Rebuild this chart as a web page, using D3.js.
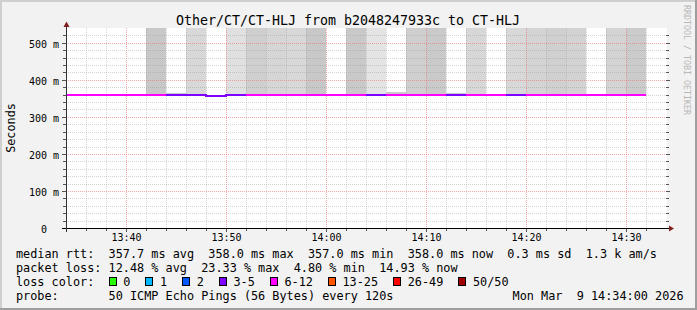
<!DOCTYPE html>
<html><head><meta charset="utf-8">
<script src="https://cdn.jsdelivr.net/npm/d3@7/dist/d3.min.js"></script>
<style>
body{margin:0;background:#f2f2f2}
svg{display:block}
text{font-family:"DejaVu Sans Mono","Liberation Mono",monospace;white-space:pre}
</style>
</head><body>
<svg id="chart" width="697" height="310"></svg>
<script>
// ---------------- data ----------------
const titleText = "Other/CT/CT-HLJ from b2048247933c to CT-HLJ";
const yAxisTitle = "Seconds";
const watermark = "RRDTOOL / TOBI OETIKER";
const dayStr = "2026-03-09";
const rangeStart = "13:34", rangeEnd = "14:34";
const stepEnds = ["13:36","13:38","13:40","13:42","13:44","13:46","13:48","13:50","13:52","13:54",
                  "13:56","13:58","14:00","14:02","14:04","14:06","14:08","14:10","14:12","14:14",
                  "14:16","14:18","14:20","14:22","14:24","14:26","14:28","14:30","14:32"];
// median rtt (ms)
const medianMs = [358.0,357.9,358.0,357.8,358.0,357.9,357.8,357.0,357.8,357.9,
                  357.9,358.0,357.8,357.9,357.8,357.8,357.9,357.9,357.8,357.8,
                  357.9,357.8,357.8,357.8,357.9,357.8,357.9,357.8,358.0];
// packet loss (%) of 50 pings
const lossPct = [13.0,13.5,12.5,13.0,15.0,8.0,10.0,6.5,9.5,13.5,
                 13.0,13.0,23.33,12.5,14.0,8.5,12.5,13.0,15.0,6.0,
                 13.0,12.5,9.0,13.0,13.0,14.5,12.5,15.0,14.93];
// smoke (ping spread): lower / upper visible bound in ms (null = no smoke)
const smokeLowMs  = [null,null,null,null,356,356,356,null,356,356,
                     356,356,356,null,356,356,356,356,356,356,
                     356,null,356,356,356,356,null,356,356];
const smokeHighMs = [null,null,null,null,540,364.5,540,null,540,540,
                     540,540,540,null,540,540,367.2,540,540,364.5,
                     540,null,540,540,540,540,null,540,540];
// relative ping density of the smoke (0 = sparse, 1 = dense)
const smokeDensity = [0,0,0,0,0.94,0.9,0.45,0,0.19,0.72,
                      0.5,0.44,0.94,0,0.9,0.06,0.9,0.72,0.88,0.9,
                      0.47,0,0.44,0.56,0.69,0.59,0,0.56,0.84];
const yTicks = [0,100,200,300,400,500];
const yTickLabels = ["0  ","100 m","200 m","300 m","400 m","500 m"];
const xTickLabels = ["13:40","13:50","14:00","14:10","14:20","14:30"];
const lossBinLabels = ["0","1","2","3-5","6-12","13-25","26-49","50/50"];
const lossBinLower = [0,1,2,3,6,13,26,50];
const lossBinColors = ["#26ff00","#00b8ff","#0059ff","#7e00ff","#ff00ff","#ff5500","#ff0000","#a10000"];
const pingsPerStep = 50;
const legendLines = [
  "median rtt:  357.7 ms avg  358.0 ms max  357.0 ms min  358.0 ms now  0.3 ms sd  1.3 k am/s",
  "packet loss: 12.48 % avg  23.33 % max  4.80 % min  14.93 % now",
  "loss color:",
  "probe:       50 ICMP Echo Pings (56 Bytes) every 120s"
];
const stampText = "Mon Mar  9 14:34:00 2026";

// ---------------- drawing ----------------
const svg = d3.select("#chart");
const W = 697, H = 310;
const parse = d3.timeParse("%Y-%m-%d %H:%M");
const T = s => parse(dayStr + " " + s);
const ends = stepEnds.map(T);
const stepMs = 120000;
const x = d3.scaleTime().domain([T(rangeStart), T(rangeEnd)]).range([66, 666]);
const y = d3.scaleLinear().domain([0, 540]).range([228, 28]);
const ry = v => Math.round(y(v));

// background + frame
svg.append("rect").attr("width", W).attr("height", H).attr("fill", "#f2f2f2");
svg.append("rect").attr("x",0).attr("y",0).attr("width",W).attr("height",2).attr("fill","#cfcfcf");
svg.append("rect").attr("x",0).attr("y",0).attr("width",2).attr("height",H).attr("fill","#cfcfcf");
svg.append("rect").attr("x",0).attr("y",H-2).attr("width",W).attr("height",2).attr("fill","#9e9e9e");
svg.append("rect").attr("x",W-2).attr("y",0).attr("width",2).attr("height",H).attr("fill","#9e9e9e");

// canvas
svg.append("rect").attr("x", 66).attr("y", 28).attr("width", 601).attr("height", 200).attr("fill", "#ffffff");

// smoke
const shade = d3.scaleLinear().domain([0, 1]).range(["#e6e6e6", "#c6c6c6"]);
const steps = ends.map((e, i) => ({
  t0: new Date(+e - stepMs), t1: e, med: medianMs[i], loss: lossPct[i],
  lo: smokeLowMs[i], hi: smokeHighMs[i], dens: smokeDensity[i]
}));
svg.append("g").selectAll("rect").data(steps.filter(d => d.hi != null)).join("rect")
  .attr("x", d => x(d.t0)).attr("width", d => x(d.t1) - x(d.t0))
  .attr("y", d => ry(Math.min(d.hi, 540))).attr("height", d => ry(d.lo) - ry(Math.min(d.hi, 540)))
  .attr("fill", d => shade(d.dens)).attr("shape-rendering", "crispEdges");

// grid
const grid = svg.append("g").attr("shape-rendering", "crispEdges");
const minor2 = d3.timeMinute.every(2).range(T("13:36"), T(rangeEnd));
minor2.forEach(t => {
  const major = t.getMinutes() % 10 === 0;
  const xx = Math.round(x(t)) + 0.5;
  grid.append("line").attr("x1", xx).attr("x2", xx).attr("y1", 28).attr("y2", 228)
    .attr("stroke", major ? "rgba(240,110,110,0.6)" : "rgba(150,150,150,0.4)")
    .attr("stroke-dasharray", "1,1");
  grid.append("line").attr("x1", xx).attr("x2", xx).attr("y1", 228).attr("y2", major ? 232 : 231)
    .attr("stroke", "#555");
});
d3.range(20, 540, 20).forEach(v => {
  const major = v % 100 === 0;
  const yy = Math.round(y(v)) + 0.5;
  grid.append("line").attr("x1", 66).attr("x2", 667).attr("y1", yy).attr("y2", yy)
    .attr("stroke", major ? "rgba(240,110,110,0.6)" : "rgba(150,150,150,0.4)")
    .attr("stroke-dasharray", "1,1");
  grid.append("line").attr("x1", major ? 62 : 63).attr("x2", 66).attr("y1", yy).attr("y2", yy).attr("stroke", "#555");
  grid.append("line").attr("x1", 666).attr("x2", major ? 670 : 669).attr("y1", yy).attr("y2", yy).attr("stroke", "#555");
});

// median line coloured by loss bin
const binOf = pct => {
  const lost = pct / 100 * pingsPerStep;
  let b = 0;
  lossBinLower.forEach((lo, k) => { if (lost >= lo) b = k; });
  return b;
};
const runs = [];
steps.forEach(d => {
  const b = binOf(d.loss);
  if (runs.length && runs[runs.length - 1].bin === b) runs[runs.length - 1].pts.push(d);
  else runs.push({ bin: b, pts: [d] });
});
const stepLine = d3.line().x(p => Math.round(x(p[0]))).y(p => ry(p[1])).curve(d3.curveStepAfter);
svg.append("g").selectAll("path").data(runs).join("path")
  .attr("d", r => {
    const pts = r.pts.map(d => [d.t0, d.med]);
    const last = r.pts[r.pts.length - 1];
    pts.push([last.t1, last.med]);
    return stepLine(pts);
  })
  .attr("fill", "none").attr("stroke", r => lossBinColors[r.bin]).attr("stroke-width", 2)
  .attr("shape-rendering", "crispEdges");

// axes
const ax = svg.append("g").attr("shape-rendering", "crispEdges");
ax.append("line").attr("x1", 62).attr("x2", 670).attr("y1", 228.5).attr("y2", 228.5).attr("stroke", "#000");
ax.append("line").attr("x1", 66.5).attr("x2", 66.5).attr("y1", 232).attr("y2", 26).attr("stroke", "#333");
svg.append("path").attr("d", "M669,225.5 L674,228.5 L669,231.5 Z").attr("fill", "#7f1f1f");
svg.append("path").attr("d", "M63.5,27 L66.5,21.5 L69.5,27 Z").attr("fill", "#7f1f1f");

// tick labels
const xMajors = d3.timeMinute.every(10).range(T("13:40"), T(rangeEnd));
svg.append("g").selectAll("text").data(xMajors).join("text")
  .attr("x", t => Math.round(x(t)) + 0.5).attr("y", 241).attr("text-anchor", "middle")
  .attr("font-size", "10px").attr("fill", "#000").text((t, i) => xTickLabels[i]);
svg.append("g").selectAll("text").data(yTicks).join("text")
  .attr("x", 59).attr("y", v => Math.round(y(v)) + 4.5).attr("text-anchor", "end")
  .attr("font-size", "10px").attr("fill", "#000").text((v, i) => yTickLabels[i]);

// titles
svg.append("text").attr("x", 348).attr("y", 24.5).attr("text-anchor", "middle")
  .attr("font-size", "13.3px").attr("fill", "#000").text(titleText);
svg.append("text").attr("transform", "translate(14.5,128) rotate(-90)").attr("text-anchor", "middle")
  .attr("font-size", "11.8px").attr("fill", "#000").text(yAxisTitle);
svg.append("text").attr("transform", "translate(684,60) rotate(90)").attr("text-anchor", "middle")
  .attr("font-size", "8.3px").attr("fill", "#b8b8b8").text(watermark);

// legend
const legY = [258.3, 272.1, 285.9, 299.7];
legendLines.forEach((s, i) => {
  svg.append("text").attr("x", 16).attr("y", legY[i]).attr("font-size", "11.83px").attr("fill", "#000").text(s);
});
const cw = 7.12;
let bx = 108.7;
lossBinLabels.forEach((lab, i) => {
  svg.append("rect").attr("x", Math.round(bx) + 0.5).attr("y", 277.5).attr("width", 7).attr("height", 8)
    .attr("fill", lossBinColors[i]).attr("stroke", "#000").attr("shape-rendering", "crispEdges");
  svg.append("text").attr("x", bx + 14.6).attr("y", legY[2]).attr("font-size", "11.83px").attr("fill", "#000").text(lab);
  bx += 14.6 + lab.length * cw + 15.0;
});
svg.append("text").attr("x", 512.6).attr("y", legY[3]).attr("font-size", "11.83px").attr("fill", "#000").text(stampText);
</script>
</body></html>
